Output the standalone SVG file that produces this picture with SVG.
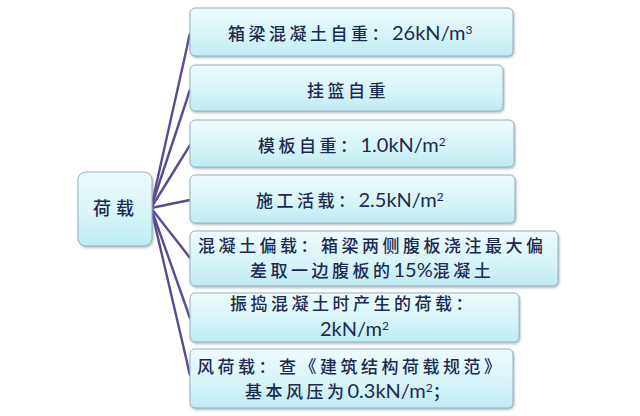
<svg xmlns="http://www.w3.org/2000/svg" width="640" height="416" viewBox="0 0 640 416">
<style>
.box{fill:url(#g);stroke:#9aaebd;stroke-width:1;filter:url(#sh)}
.t{font-family:"Noto Sans CJK SC","Noto Sans",sans-serif;font-size:17px;font-weight:500;fill:#1c2a4f;letter-spacing:3.5px}
.l{font-family:Lato,"Open Sans",sans-serif;font-size:20px;font-weight:normal;letter-spacing:0}
.sup{font-family:Lato,"Open Sans",sans-serif;font-size:12px;font-weight:normal;letter-spacing:0}
.c{fill:none;stroke:#5a4b93;stroke-width:2.4;stroke-linecap:round;stroke-linejoin:round}
</style>
<defs>
<linearGradient id="g" x1="0" y1="0" x2="0" y2="1">
<stop offset="0" stop-color="#eefbfd"/>
<stop offset="0.6" stop-color="#d6f4f8"/>
<stop offset="1" stop-color="#bdebf2"/>
</linearGradient>
<filter id="sh" x="-10%" y="-10%" width="120%" height="130%">
<feDropShadow dx="1" dy="1.5" stdDeviation="1" flood-color="#667788" flood-opacity="0.5"/>
</filter>
</defs>
<rect width="640" height="416" fill="#ffffff"/>
<g id="connectors">
<path class="c" d="M151,208 L187,47 Q189,36 190,34"/>
<path class="c" d="M151,208 L187,99 Q189,91.5 190,90"/>
<path class="c" d="M151,208 L187,150 Q189,146 190,145"/>
<path class="c" d="M151,208 L190,200"/>
<path class="c" d="M151,208 L187,254 Q189,257 190,258"/>
<path class="c" d="M151,208 L187,309.5 Q189,316.5 190,318"/>
<path class="c" d="M151,208 L187,362 Q189,373 190,375"/>
</g>
<g id="root">
<rect class="box" x="78" y="172" width="74" height="74" rx="8"/>
<text class="t" x="93" y="215" style="font-size:18px;letter-spacing:5px">荷载</text>
</g>
<g id="n1">
<rect class="box" x="190" y="8" width="323" height="48" rx="5"/>
<text class="t" x="228" y="40">箱梁混凝土自重：<tspan class="l">26kN/m</tspan><tspan class="sup" dy="-6">3</tspan></text>
</g>
<g id="n2">
<rect class="box" x="190" y="65" width="313" height="46" rx="5"/>
<text class="t" x="307" y="97">挂篮自重</text>
</g>
<g id="n3">
<rect class="box" x="190" y="120" width="324" height="47" rx="5"/>
<text class="t" x="258" y="152">模板自重：<tspan class="l">1.0kN/m</tspan><tspan class="sup" dy="-6">2</tspan></text>
</g>
<g id="n4">
<rect class="box" x="190" y="175" width="325" height="48" rx="5"/>
<text class="t" x="256" y="207">施工活载：<tspan class="l">2.5kN/m</tspan><tspan class="sup" dy="-6">2</tspan></text>
</g>
<g id="n5">
<rect class="box" x="190" y="231" width="368" height="55" rx="5"/>
<text class="t" x="198" y="252">混凝土偏载：箱梁两侧腹板浇注最大偏</text>
<text class="t" x="250" y="277">差取一边腹板的<tspan class="l">15%</tspan>混凝土</text>
</g>
<g id="n6">
<rect class="box" x="190" y="293" width="329" height="49" rx="5"/>
<text class="t" x="230" y="310">振捣混凝土时产生的荷载：</text>
<text class="t" x="320" y="336"><tspan class="l">2kN/m</tspan><tspan class="sup" dy="-6">2</tspan></text>
</g>
<g id="n7">
<rect class="box" x="190" y="349" width="323" height="59" rx="5"/>
<text class="t" x="197" y="373">风荷载：查《建筑结构荷载规范》</text>
<text class="t" x="245" y="398">基本风压为<tspan class="l">0.3kN/m</tspan><tspan class="sup" dy="-6">2</tspan><tspan dy="6">；</tspan></text>
</g>
</svg>
